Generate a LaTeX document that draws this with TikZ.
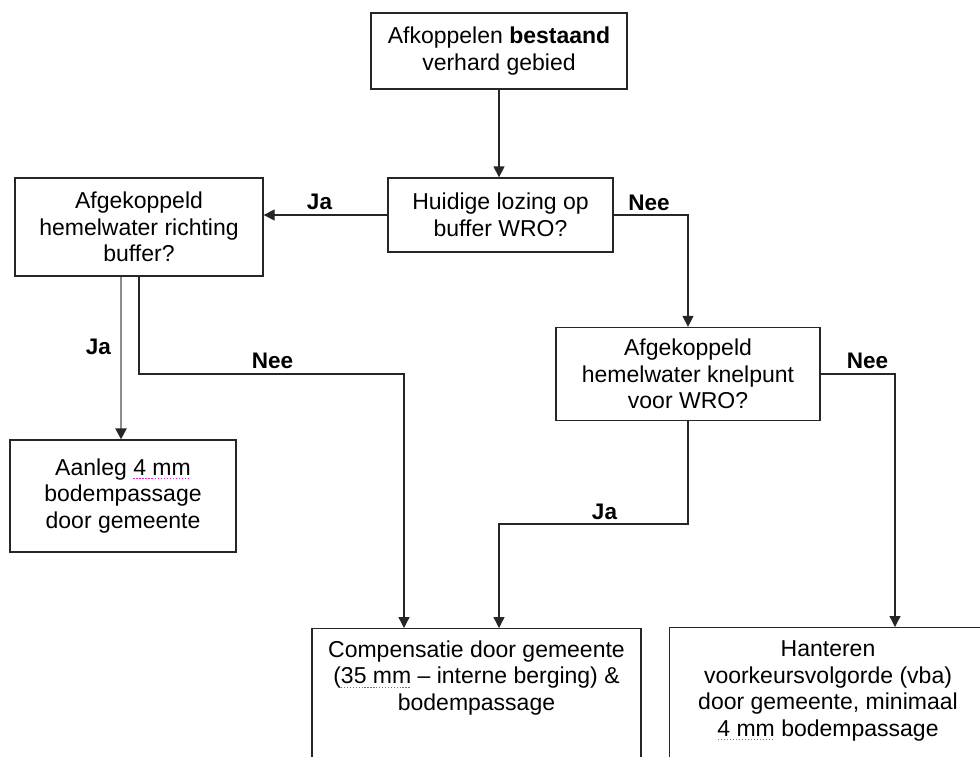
\documentclass[tikz,border=0pt]{standalone}
\usepackage{fontspec}
\setmainfont{Liberation Sans}
\usetikzlibrary{arrows.meta}
\definecolor{spellred}{RGB}{230,40,200}
\newsavebox\spbox
\newcommand\spellmark[1]{\leavevmode\sbox\spbox{#1}\rlap{\raisebox{-4pt}{\color{spellred}\hbox to \wd\spbox{\xleaders\hbox{\rule{1.3pt}{1.3pt}\kern1.6pt}\hfill}}}\usebox\spbox}
\tikzset{
  box/.style={draw=black!85, line width=1.3pt, rectangle, inner sep=0pt, align=center,
    font=\fontsize{23}{26.5}\selectfont},
  txt/.style={inner sep=0pt, align=center, font=\fontsize{23}{26.5}\selectfont},
  lbl/.style={inner sep=0pt, font=\fontsize{22.5}{26}\selectfont\bfseries},
  conn/.style={draw=black!85, line width=1.3pt, -{Triangle[length=11pt,width=11pt]}},
  grayconn/.style={draw=black!45, line width=2.4pt, -{Triangle[length=11pt,width=11pt,color=black!85,fill=black!85]}}
}
\begin{document}
\begin{tikzpicture}[x=1pt,y=-1pt]
\useasboundingbox (0,0) rectangle (980,756);
\fill[white] (0,0) rectangle (980,756);
\clip (0,0) rectangle (980,756);

\node[box, minimum width=256pt, minimum height=76pt] (start) at (499,51)
  {Afkoppelen \textbf{bestaand}\\verhard gebied};
\node[box, minimum width=225pt, minimum height=74pt] (huidig) at (500.5,215)
  {Huidige lozing op\\buffer WRO?};
\node[box, minimum width=248pt, minimum height=98pt] (richting) at (139,227)
  {Afgekoppeld\\hemelwater richting\\buffer?};
\node[box, minimum width=264pt, minimum height=93pt] (knel) at (688,374)
  {Afgekoppeld\\hemelwater knelpunt\\voor WRO?};
\node[box, minimum width=226pt, minimum height=112pt] (aanleg) at (123,496)
  {Aanleg \spellmark{4 mm}\\bodempassage\\door gemeente};
\node[box, minimum width=329pt, minimum height=200pt, anchor=north] (comp) at (476.5,628) {};
\node[txt] (comptxt) at (476.5,678)
  {Compensatie door gemeente\\(\spellmark{35 mm} -- interne berging) \&\\bodempassage};
\node[box, minimum width=330pt, minimum height=200pt, anchor=north west] (hant) at (669,627) {};
\node[txt] (hanttxt) at (828,691)
  {Hanteren\\voorkeursvolgorde (vba)\\door gemeente, minimaal\\\spellmark{4 mm} bodempassage};

% connectors
\draw[conn] (start.south) -- (start.south |- huidig.north);
\draw[conn] (huidig.west) -- (huidig.west -| richting.east);
\draw[conn] (huidig.east) -| (knel.north);
\draw[grayconn] ([xshift=-18pt]richting.south) -- ([xshift=-18pt]richting.south |- aanleg.north);
\coordinate (rn1) at (139,374);
\coordinate (rn2) at (404,374);
\draw[conn] (richting.south) -- (rn1) -- (rn2) -- (rn2 |- comp.north);
\coordinate (kj1) at (688,524);
\coordinate (kj2) at (499,524);
\draw[conn] (knel.south) -- (kj1) -- (kj2) -- (kj2 |- comp.north);
\coordinate (kn1) at (895,374);
\draw[conn] (knel.east) -- (kn1) -- (kn1 |- hant.north);

% labels
\node[lbl] (l1) at (319.5,202) {Ja};
\node[lbl] (l2) at (649,203) {Nee};
\node[lbl] (l3) at (98.5,347) {Ja};
\node[lbl] (l4) at (272.5,361) {Nee};
\node[lbl] (l5) at (604.5,512) {Ja};
\node[lbl] (l6) at (867.5,361) {Nee};
\end{tikzpicture}
\end{document}
